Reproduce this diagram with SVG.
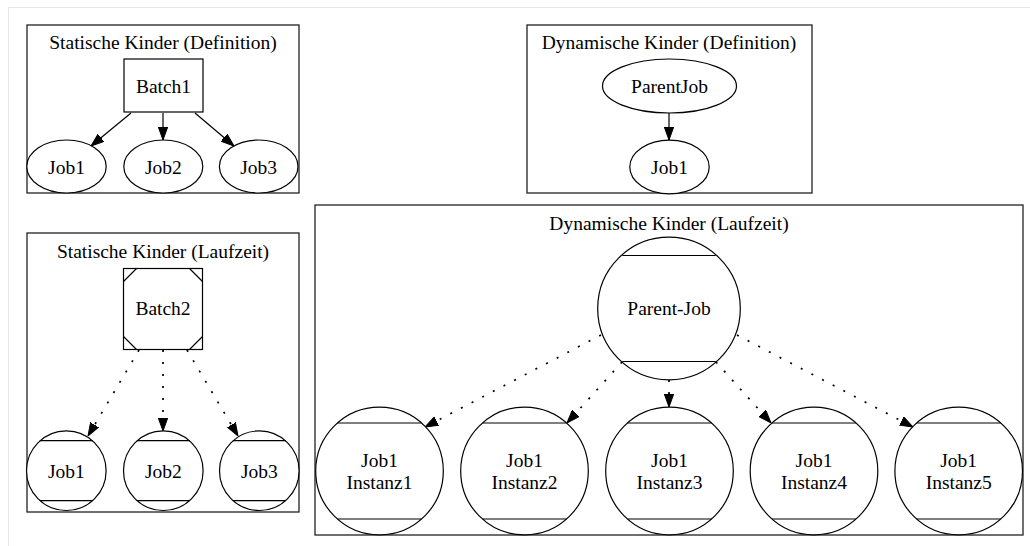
<svg xmlns="http://www.w3.org/2000/svg" width="1030" height="546" viewBox="0 0 1030 546">
<style>
text{font-family:'Liberation Serif','DejaVu Serif',serif;font-size:19.5px;fill:#000;text-anchor:middle}
.cl{fill:none;stroke:#222;stroke-width:1.3}
.nd{fill:#fff;stroke:#000;stroke-width:1.2}
.ln{fill:none;stroke:#000;stroke-width:1.2}
.e{fill:none;stroke:#000;stroke-width:1.2}
.d{fill:none;stroke:#000;stroke-width:1.7;stroke-dasharray:2 10}
.frame{fill:none;stroke:#e6e6e6;stroke-width:1}
</style>
<defs>
<marker id="arr" viewBox="0 0 13 10" refX="13" refY="5" markerWidth="13" markerHeight="10" markerUnits="userSpaceOnUse" orient="auto">
<path d="M0,0.3 L13,5 L0,9.7 Z" fill="#000" stroke="#000" stroke-width="1"/>
</marker>
</defs>
<rect width="1030" height="546" fill="#fff"/>
<path class="frame" d="M8.5,546 V7.5 H1030"/>

<g id="cluster-static-def">
<rect class="cl" x="27" y="25" width="272" height="168"/>
<text x="163" y="49" font-family="Liberation Serif, serif">Statische Kinder (Definition)</text>
</g>
<g id="cluster-static-run">
<rect class="cl" x="27" y="233" width="272" height="279"/>
<text x="163" y="258">Statische Kinder (Laufzeit)</text>
</g>
<g id="cluster-dyn-def">
<rect class="cl" x="527" y="25" width="285" height="168"/>
<text x="669" y="49">Dynamische Kinder (Definition)</text>
</g>
<g id="cluster-dyn-run">
<rect class="cl" x="315" y="205" width="708" height="330"/>
<text x="669" y="230">Dynamische Kinder (Laufzeit)</text>
</g>

<g id="connectors">
<line class="e" x1="131" y1="113" x2="91" y2="146" marker-end="url(#arr)"/>
<line class="e" x1="163" y1="113" x2="163" y2="140" marker-end="url(#arr)"/>
<line class="e" x1="195" y1="113" x2="234" y2="146" marker-end="url(#arr)"/>
<line class="e" x1="669" y1="113" x2="669" y2="140" marker-end="url(#arr)"/>
<line class="d" x1="139" y1="350" x2="88" y2="436" marker-end="url(#arr)"/>
<line class="d" x1="163" y1="350" x2="163" y2="431" marker-end="url(#arr)"/>
<line class="d" x1="187" y1="350" x2="238" y2="436" marker-end="url(#arr)"/>
<line class="d" x1="601" y1="335" x2="425" y2="427" marker-end="url(#arr)"/>
<line class="d" x1="622" y1="362" x2="567" y2="423" marker-end="url(#arr)"/>
<line class="d" x1="669" y1="380" x2="669" y2="407" marker-end="url(#arr)"/>
<line class="d" x1="716" y1="362" x2="771" y2="423" marker-end="url(#arr)"/>
<line class="d" x1="737" y1="335" x2="913" y2="427" marker-end="url(#arr)"/>
</g>

<g id="batch1">
<rect class="nd" x="124" y="59" width="79" height="53"/>
<text x="163.5" y="93">Batch1</text>
</g>
<g id="def-job1">
<ellipse class="nd" cx="66.5" cy="166.5" rx="39.7" ry="26.5"/>
<text x="66.5" y="173.5">Job1</text>
</g>
<g id="def-job2">
<ellipse class="nd" cx="163.3" cy="166.5" rx="39.5" ry="26.5"/>
<text x="163.3" y="173.5">Job2</text>
</g>
<g id="def-job3">
<ellipse class="nd" cx="258.7" cy="166.5" rx="39.3" ry="26.5"/>
<text x="258.7" y="173.5">Job3</text>
</g>

<g id="batch2">
<rect class="nd" x="123.5" y="268.5" width="79" height="81"/>
<path class="ln" d="M123.5,281.5 L136.5,268.5 M189.5,268.5 L202.5,281.5 M123.5,336.5 L136.5,349.5 M189.5,349.5 L202.5,336.5"/>
<text x="163" y="315">Batch2</text>
</g>
<g id="run-job1">
<circle class="nd" cx="66.3" cy="470.7" r="39.8"/>
<path class="ln" d="M39.8,440.7 H92.8 M39.8,500.7 H92.8"/>
<text x="66.3" y="477.5">Job1</text>
</g>
<g id="run-job2">
<circle class="nd" cx="163.3" cy="470.7" r="39.8"/>
<path class="ln" d="M136.8,440.7 H189.8 M136.8,500.7 H189.8"/>
<text x="163.3" y="477.5">Job2</text>
</g>
<g id="run-job3">
<circle class="nd" cx="259.3" cy="470.7" r="39.8"/>
<path class="ln" d="M232.8,440.7 H285.8 M232.8,500.7 H285.8"/>
<text x="259.3" y="477.5">Job3</text>
</g>

<g id="parentjob">
<ellipse class="nd" cx="669.5" cy="86" rx="67" ry="27"/>
<text x="669.5" y="92.5">ParentJob</text>
</g>
<g id="dyn-def-job1">
<ellipse class="nd" cx="669.5" cy="167" rx="39.7" ry="26.8"/>
<text x="669.5" y="173.5">Job1</text>
</g>

<g id="parent-job">
<circle class="nd" cx="669" cy="308.5" r="71.3"/>
<path class="ln" d="M622.3,255.5 H715.7 M622.3,361.5 H715.7"/>
<text x="669" y="315">Parent-Job</text>
</g>
<g id="instanz1">
<circle class="nd" cx="379.5" cy="471" r="63.8"/>
<path class="ln" d="M337.5,423 H421.5 M337.5,519 H421.5"/>
<text x="379.5" y="467">Job1</text>
<text x="379.5" y="488.5">Instanz1</text>
</g>
<g id="instanz2">
<circle class="nd" cx="524.5" cy="471" r="63.8"/>
<path class="ln" d="M482.5,423 H566.5 M482.5,519 H566.5"/>
<text x="524.5" y="467">Job1</text>
<text x="524.5" y="488.5">Instanz2</text>
</g>
<g id="instanz3">
<circle class="nd" cx="669.5" cy="471" r="63.8"/>
<path class="ln" d="M627.5,423 H711.5 M627.5,519 H711.5"/>
<text x="669.5" y="467">Job1</text>
<text x="669.5" y="488.5">Instanz3</text>
</g>
<g id="instanz4">
<circle class="nd" cx="814" cy="471" r="63.8"/>
<path class="ln" d="M772,423 H856 M772,519 H856"/>
<text x="814" y="467">Job1</text>
<text x="814" y="488.5">Instanz4</text>
</g>
<g id="instanz5">
<circle class="nd" cx="958.7" cy="471" r="63.8"/>
<path class="ln" d="M916.7,423 H1000.7 M916.7,519 H1000.7"/>
<text x="958.7" y="467">Job1</text>
<text x="958.7" y="488.5">Instanz5</text>
</g>
</svg>
